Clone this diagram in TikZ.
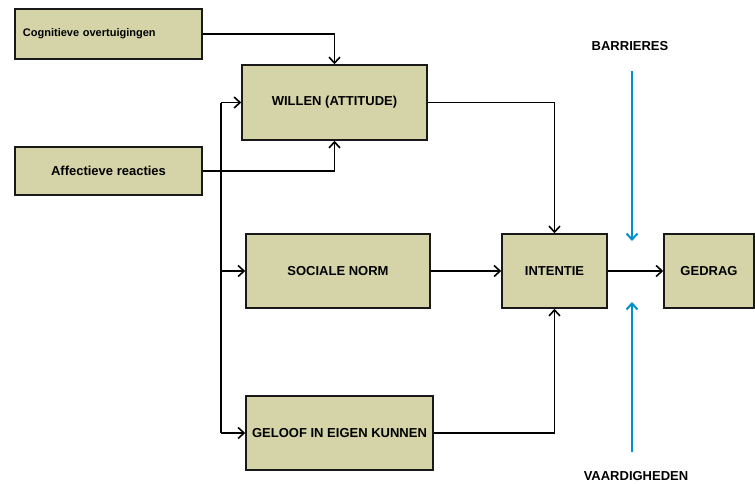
\documentclass[tikz,border=0pt]{standalone}
\usepackage{fontspec}
\setmainfont{Liberation Sans}
\usetikzlibrary{arrows.meta,calc}
\definecolor{boxfill}{RGB}{213,212,168}
\definecolor{blueline}{RGB}{0,146,199}
\begin{document}
\begin{tikzpicture}[x=1pt,y=-1pt,
  box/.style={draw=black!90,line width=1.5pt,fill=boxfill,inner sep=0pt,
    font=\fontsize{13}{15}\selectfont\bfseries},
  arr/.style={line width=1.6pt,-{Straight Barb[length=6pt,width=11pt,line width=1.6pt]}},
  conn/.style={line width=1.6pt},
  barr/.style={draw=blueline,line width=2pt,-{Straight Barb[length=6pt,width=11pt,line width=2pt]}},
  lbl/.style={font=\fontsize{13}{15}\selectfont\bfseries,inner sep=0pt}]
\path[use as bounding box] (0,0) rectangle (755,483);

\node[box,minimum width=187pt,minimum height=50pt,text width=171pt,inner xsep=8pt,align=left,
  font=\fontsize{11}{13}\selectfont\bfseries] (cog) at (108.5,34) {Cognitieve overtuigingen};
\node[box,minimum width=187pt,minimum height=48pt] (aff) at (108.5,171) {Affectieve reacties};
\node[box,minimum width=185pt,minimum height=75pt] (will) at (334.5,102.5) {WILLEN (ATTITUDE)};
\node[box,minimum width=184pt,minimum height=74pt] (soc) at (338,271) {SOCIALE NORM};
\node[box,minimum width=187pt,minimum height=74pt] (gel) at (339.5,433) {GELOOF IN EIGEN KUNNEN};
\node[box,minimum width=105pt,minimum height=74pt] (int) at (554.5,271) {INTENTIE};
\node[box,minimum width=90pt,minimum height=74pt] (ged) at (709,271) {GEDRAG};

\node[lbl] (bar) at (630,46) {BARRIERES};
\node[lbl] (vaa) at (636,476) {VAARDIGHEDEN};

% connectors
\draw[arr] (cog.east) -| (will.north);
\draw[arr] (aff.east) -| (will.south);
\coordinate (bt) at (221,102.5);
\coordinate (bb) at (221,433);
\draw[conn] (bt) -- (bb);
\draw[arr] (bt) -- (will.west);
\draw[arr] (bt |- soc.west) -- (soc.west);
\draw[arr] (bb) -- (gel.west);
\draw[arr] (will.east) -| (int.north);
\draw[arr] (soc.east) -- (int.west);
\draw[arr] (gel.east) -| (int.south);
\draw[arr] (int.east) -- (ged.west);

% blue arrows
\coordinate (b1s) at (632,71);
\coordinate (b1e) at (632,241);
\coordinate (b2s) at (632,452);
\coordinate (b2e) at (632,302);
\draw[barr] (b1s) -- (b1e);
\draw[barr] (b2s) -- (b2e);
\end{tikzpicture}
\end{document}
